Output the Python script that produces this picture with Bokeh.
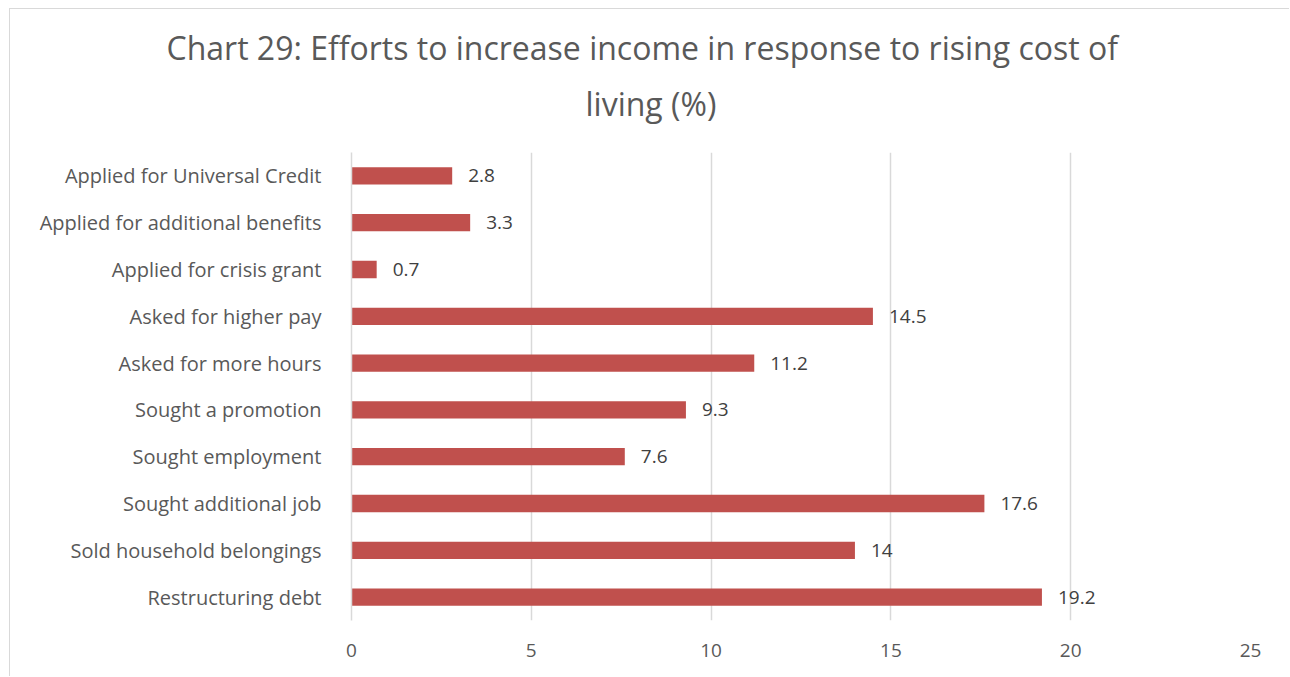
from bokeh.plotting import figure
from bokeh.models import ColumnDataSource, Title, FixedTicker, LabelSet
from bokeh.embed import file_html
from bokeh.resources import INLINE
from bokeh.core.properties import value

categories = [
    "Applied for Universal Credit",
    "Applied for additional benefits",
    "Applied for crisis grant",
    "Asked for higher pay",
    "Asked for more hours",
    "Sought a promotion",
    "Sought employment",
    "Sought additional job",
    "Sold household belongings",
    "Restructuring debt",
]
values = [2.8, 3.3, 0.7, 14.5, 11.2, 9.3, 7.6, 17.6, 14, 19.2]
labels = ["2.8", "3.3", "0.7", "14.5", "11.2", "9.3", "7.6", "17.6", "14", "19.2"]
x_ticks = [0, 5, 10, 15, 20, 25]

FONT = "Open Sans"

src = ColumnDataSource(dict(cat=categories, val=values, lab=labels))

p = figure(
    width=1280, height=668,
    y_range=list(reversed(categories)),
    x_range=(0, 25),
    output_backend="svg", toolbar_location=None,
    min_border_left=341, min_border_right=40, min_border_top=143, min_border_bottom=57,
    title=None,
)
p.styles = {"margin-left": "9px", "margin-top": "8px",
            "border-left": "1px solid #d9d9d9", "border-top": "1px solid #d9d9d9"}

p.hbar(y="cat", right="val", left=0, height=0.37, source=src,
       fill_color="#C0504D", line_color=None)

p.add_layout(LabelSet(x="val", y="cat", text="lab", source=src, x_offset=16,
                      text_baseline="middle", text_font=value(FONT),
                      text_font_size="19px", text_color="#404040"))

p.outline_line_color = None
p.background_fill_color = "white"
p.border_fill_color = "white"

p.xgrid.grid_line_color = "#d9d9d9"
p.xgrid.grid_line_width = 1.5
p.ygrid.grid_line_color = None
p.xaxis.ticker = FixedTicker(ticks=x_ticks)
p.xaxis.axis_line_color = None
p.xaxis.major_tick_line_color = None
p.xaxis.minor_tick_line_color = None
p.xaxis.major_label_standoff = 17
p.xaxis.major_label_text_font = FONT
p.xaxis.major_label_text_font_size = "19px"
p.xaxis.major_label_text_color = "#595959"

p.yaxis.axis_line_color = "#d9d9d9"
p.yaxis.axis_line_width = 1.5
p.yaxis.major_tick_line_color = None
p.yaxis.minor_tick_line_color = None
p.yaxis.major_label_standoff = 24
p.yaxis.major_label_text_font = FONT
p.yaxis.major_label_text_font_size = "20px"
p.yaxis.major_label_text_color = "#595959"

p.add_layout(Title(text="living (%)", align="left", offset=234, standoff=56,
                   text_font=FONT, text_font_size="32px", text_color="#595959",
                   text_font_style="normal"), "above")
p.add_layout(Title(text="Chart 29: Efforts to increase income in response to rising cost of",
                   align="left", offset=-185, standoff=-34,
                   text_font=FONT, text_font_size="32px", text_color="#595959",
                   text_font_style="normal"), "above")

open("out.html", "w").write(file_html(p, INLINE))
